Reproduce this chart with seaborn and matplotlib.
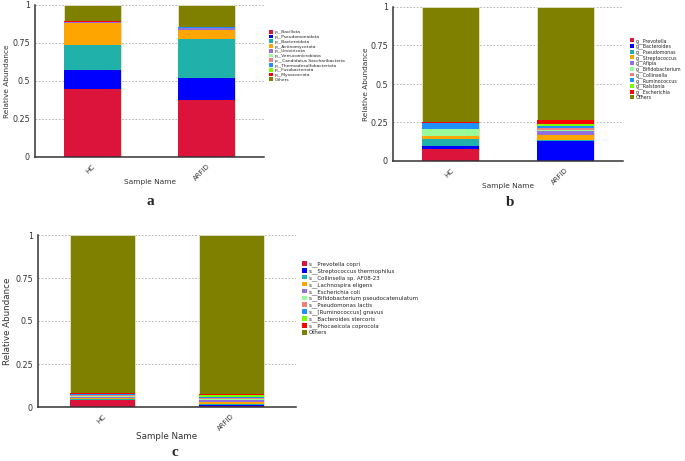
import matplotlib
matplotlib.use("Agg")
import matplotlib.pyplot as plt
import seaborn as sns
import pandas as pd
from matplotlib.patches import Patch

# --- Data ---
SAMPLES = ["HC", "ARFID"]

COLORS = ["#DC143C", "#0000FF", "#20B2AA", "#FFA500", "#9370DB", "#98FB98",
          "#F08080", "#1E90FF", "#7CFC00", "#FF0000", "#808000"]

PHYLUM_TAXA = ["p__Bacillota", "p__Pseudomonadota", "p__Bacteroidota", "p__Actinomycetota",
               "p__Uroviricota", "p__Verrucomicrobiota", "p__Candidatus Saccharibacteria",
               "p__Thermodesulfobacteriota", "p__Fusobacteriota", "p__Myxococcota", "Others"]
PHYLUM_HC = [0.445, 0.129, 0.165, 0.140, 0.006, 0.002, 0.002, 0.001, 0.001, 0.001, 0.108]
PHYLUM_ARFID = [0.372, 0.145, 0.257, 0.062, 0.010, 0.002, 0.002, 0.002, 0.001, 0.001, 0.146]

GENUS_TAXA = ["g__Prevotella", "g__Bacteroides", "g__Pseudomonas", "g__Streptococcus",
              "g__Afipia", "g__Bifidobacterium", "g__Collinsella", "g__Ruminococcus",
              "g__Ralstonia", "g__Escherichia", "Others"]
GENUS_HC = [0.080, 0.015, 0.048, 0.019, 0.003, 0.040, 0.003, 0.036, 0.002, 0.004, 0.750]
GENUS_ARFID = [0.002, 0.128, 0.004, 0.036, 0.022, 0.010, 0.012, 0.012, 0.014, 0.025, 0.735]

SPECIES_TAXA = ["s__Prevotella copri", "s__Streptococcus thermophilus", "s__Collinsella sp. AF08-23",
                "s__Lachnospira eligens", "s__Escherichia coli", "s__Bifidobacterium pseudocatenulatum",
                "s__Pseudomonas lactis", "s__[Ruminococcus] gnavus", "s__Bacteroides stercoris",
                "s__Phocaeicola coprocola", "Others"]
SPECIES_HC = [0.040, 0.003, 0.005, 0.004, 0.005, 0.006, 0.004, 0.008, 0.003, 0.003, 0.919]
SPECIES_ARFID = [0.003, 0.010, 0.006, 0.008, 0.012, 0.006, 0.007, 0.008, 0.007, 0.006, 0.927]

AXIS_COLOR = "#333333"
W, H = 685, 461


def draw_panel(fig, box, taxa, hc, arfid, letter, letter_xy, legend_xy, legend_font,
               legend_space, label_font, ylabel_x, xlabel_gap):
    left, right, top, bottom = box
    ax = fig.add_axes([left / W, 1 - bottom / H, (right - left) / W, (bottom - top) / H])
    df = pd.DataFrame({"taxon": taxa, "HC": hc, "ARFID": arfid})
    cum = df[SAMPLES].cumsum()

    # overlay cumulative bars, tallest first, so the result looks stacked
    for i in range(len(taxa) - 1, -1, -1):
        sns.barplot(x=SAMPLES, y=cum.iloc[i].values, color=COLORS[i], width=0.5,
                    edgecolor="#eeeedd", linewidth=0.5 if i == len(taxa) - 1 else 0,
                    saturation=1, ax=ax)

    ax.set_xlim(-0.5, 1.5)
    ax.set_ylim(0, 1)
    ax.set_yticks([0, 0.25, 0.5, 0.75, 1])
    ax.set_yticklabels(["0", "0.25", "0.5", "0.75", "1"])
    ax.set_xticks([0, 0.5, 1])
    ax.set_xticklabels(["HC", "", "ARFID"], rotation=45, ha="right", rotation_mode="anchor")
    ax.tick_params(axis="y", labelsize=5.8, colors=AXIS_COLOR, length=2.5, width=0.8,
                   direction="out", pad=1.2)
    ax.tick_params(axis="x", labelsize=5.0, colors=AXIS_COLOR, length=2, width=0.8,
                   direction="out", pad=2.5)
    ax.set_ylabel("Relative Abundance", fontsize=label_font, color=AXIS_COLOR)
    ax.set_xlabel("Sample Name", fontsize=label_font, color=AXIS_COLOR)
    # label positions given in pixels, converted to axes fractions
    ax.yaxis.set_label_coords((ylabel_x - left) / (right - left), 0.5)
    ax.xaxis.set_label_coords(0.5, -(xlabel_gap - 4) / (bottom - top))

    ax.yaxis.grid(True, linestyle=(0, (2, 2)), color="#aaaaaa", linewidth=0.6)
    ax.set_axisbelow(True)
    sns.despine(ax=ax)
    for side in ["left", "bottom"]:
        ax.spines[side].set_color(AXIS_COLOR)
        ax.spines[side].set_linewidth(1.1)

    handles = [Patch(facecolor=c, edgecolor="none") for c in COLORS]
    fig.legend(handles, taxa, loc="upper left", bbox_to_anchor=(legend_xy[0] / W, 1 - legend_xy[1] / H),
               frameon=False, fontsize=legend_font, handlelength=0.9, handleheight=0.9,
               handletextpad=0.35, labelspacing=legend_space, borderaxespad=0, borderpad=0,
               labelcolor="#222222")

    fig.text(letter_xy[0] / W, 1 - letter_xy[1] / H, letter, fontsize=11, fontweight="bold",
             family="Liberation Serif", ha="center", va="center")
    return ax


sns.set_style("white")
plt.rcParams["font.family"] = ["DejaVu Sans"]

fig = plt.figure(figsize=(W / 100, H / 100), dpi=100)

draw_panel(fig, (35, 264, 5, 157), PHYLUM_TAXA, PHYLUM_HC, PHYLUM_ARFID,
           "a", (150, 201), (269, 30), 3.2, 0.08, 5.3, 10, 26)
draw_panel(fig, (393, 623, 7, 161), GENUS_TAXA, GENUS_HC, GENUS_ARFID,
           "b", (510, 203), (630, 38), 3.4, 0.0, 5.3, 369, 26)
draw_panel(fig, (38, 296, 235, 407), SPECIES_TAXA, SPECIES_HC, SPECIES_ARFID,
           "c", (175, 452), (302, 261), 4.0, 0.18, 6.3, 12, 29)

fig.savefig("out.png", dpi=100)
